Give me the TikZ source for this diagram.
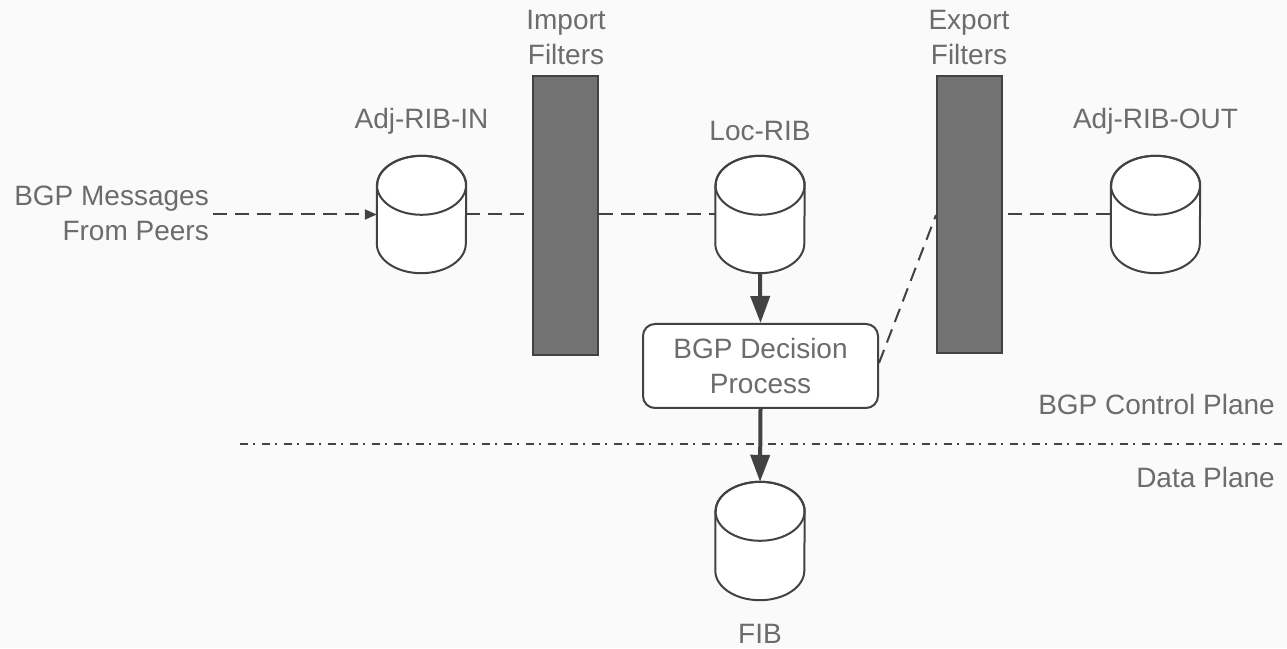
\documentclass[tikz,border=0pt]{standalone}
\usepackage{fontspec}
\setmainfont{Liberation Sans}
\usetikzlibrary{arrows.meta,calc}
\definecolor{bgc}{HTML}{FAFAFA}
\definecolor{linec}{HTML}{424242}
\definecolor{txtc}{HTML}{6C6C6C}
\definecolor{filterc}{HTML}{727272}
\tikzset{
  lbl/.style={text=txtc, font=\fontsize{28}{35}\selectfont, inner sep=0pt, align=center},
  cylbox/.style={minimum width=89pt, inner sep=0pt},
  cylfill/.style={fill=white, draw=linec, line width=2pt},
  filterbox/.style={draw=linec, fill=filterc, line width=2pt, minimum width=65pt, inner sep=0pt},
  decbox/.style={draw=linec, fill=white, line width=2pt, rounded corners=12pt, minimum width=235pt, minimum height=84pt, inner sep=0pt, text=txtc, font=\fontsize{28}{35}\selectfont, align=center},
  dashconn/.style={draw=linec, line width=2pt, dash pattern=on 14pt off 8pt},
  thickarrow/.style={draw=linec, line width=4pt, -{Triangle[length=27pt,width=19pt]}},
  planeline/.style={draw=linec, line width=2pt, dash pattern=on 8pt off 5pt on 2pt off 7pt},
}
\newcommand\mycyl[4]{% name, x, y, height
  \node[cylbox, minimum height=#4pt] (#1) at (#2,#3) {};
  \path[cylfill] ($(#1.north west)+(0,-29.5)$) -- ($(#1.south west)+(0,29.5)$)
    arc[start angle=180,end angle=360,x radius=44.5,y radius=29.5]
    -- ($(#1.north east)+(0,-29.5)$)
    arc[start angle=0,end angle=180,x radius=44.5,y radius=29.5] -- cycle;
  \draw[linec, line width=2pt] ($(#1.north)+(0,-29.5)$) ellipse[x radius=44.5, y radius=29.5];
}
\begin{document}
\begin{tikzpicture}[x=1pt,y=1pt]
\fill[bgc] (0,0) rectangle (1287,648);
\useasboundingbox (0,0) rectangle (1287,648);

% filters
\node[filterbox, minimum height=279pt] (import) at (565.5,432.5) {};
\node[filterbox, minimum height=277pt] (export) at (969.5,433.5) {};

% cylinders
\mycyl{adjin}{421.5}{433.5}{117}
\mycyl{locrib}{760}{433.5}{117}
\mycyl{adjout}{1155.5}{433.5}{117}
\mycyl{fib}{760}{107}{118}

% decision box
\node[decbox] (dec) at (760.5,282) {BGP Decision\\Process};

% labels
\node[lbl, anchor=north] (implbl) at (566,638) {Import\\Filters};
\node[lbl, anchor=north] (explbl) at (969,638) {Export\\Filters};
\node[lbl, anchor=north] (adjinlbl) at (421.5,540) {Adj-RIB-IN};
\node[lbl, anchor=north] (loclbl) at (760,527) {Loc-RIB};
\node[lbl, anchor=north] (adjoutlbl) at (1155.5,540) {Adj-RIB-OUT};
\node[lbl, anchor=north east, align=right] (msg) at (209,462) {BGP Messages\\From Peers};
\node[lbl, anchor=base east] (ctrl) at (1275,233) {BGP Control Plane};
\node[lbl, anchor=base east] (data) at (1275,160) {Data Plane};
\node[lbl, anchor=base] (fiblbl) at (760,5) {FIB};

% plane separator
\coordinate (sepl) at (240,204);
\coordinate (sepr) at (1287,204);
\draw[planeline] (sepl) -- (sepr);

% connectors
\coordinate (msgend) at (213,433.5);
\draw[dashconn, -{Triangle[length=12pt,width=10pt]}] (msgend) -- (adjin.west);
\draw[dashconn] (adjin.east) -- (adjin.east -| import.west);
\draw[dashconn] (import.east |- locrib.west) -- (locrib.west);
\draw[dashconn] ($(export.east)+(5,0)$) -- (adjout.west);
\draw[dashconn] ($(dec.east)+(0,3)$) -- ($(export.west)+(0,-0.5)$);
\draw[thickarrow] (locrib.south) -- (dec.north);
\draw[thickarrow] (dec.south) -- (fib.north);
\end{tikzpicture}
\end{document}
